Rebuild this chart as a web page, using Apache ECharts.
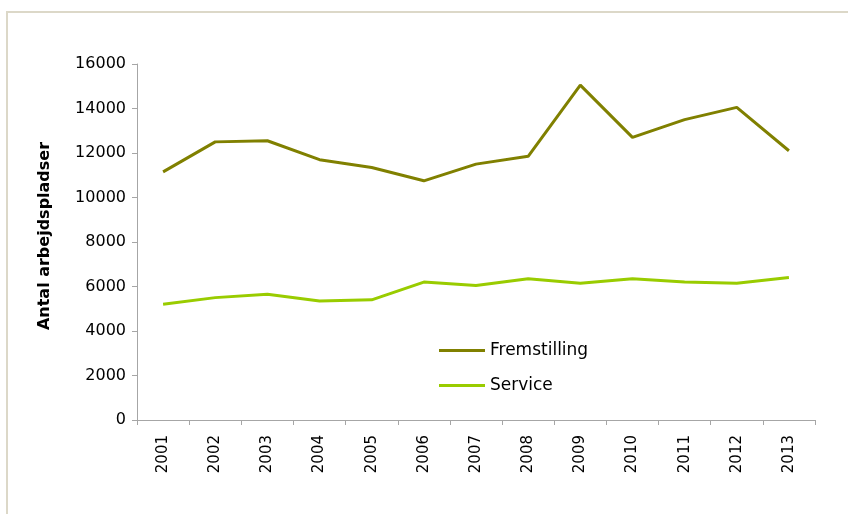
<!DOCTYPE html>
<html>
<head>
<meta charset="utf-8">
<script src="https://cdn.jsdelivr.net/npm/echarts@6/dist/echarts.min.js"></script>
<style>
html,body{margin:0;padding:0;background:#fff;}
#chart{width:848px;height:514px;}
</style>
</head>
<body>
<div id="chart"></div>
<script>
var years = ['2001','2002','2003','2004','2005','2006','2007','2008','2009','2010','2011','2012','2013'];
var fremstilling = [11150, 12500, 12550, 11700, 11350, 10750, 11500, 11850, 15050, 12700, 13500, 14050, 12100];
var service = [5200, 5500, 5650, 5350, 5400, 6200, 6050, 6350, 6150, 6350, 6200, 6150, 6400];
var yTicks = { min: 0, max: 16000, interval: 2000 };
var yTitle = 'Antal arbejdspladser';
var seriesNames = ['Fremstilling', 'Service'];

var chart = echarts.init(document.getElementById('chart'), null, {renderer: 'canvas'});
var axisColor = '#a6a6a6';
var tickFont = 'DejaVu Sans';
chart.setOption({
  animation: false,
  backgroundColor: '#ffffff',
  graphic: [
    {type: 'line', shape: {x1: 6, y1: 12, x2: 848, y2: 12}, style: {stroke: '#dcd8c8', lineWidth: 2}, silent: true},
    {type: 'line', shape: {x1: 7, y1: 11, x2: 7, y2: 514}, style: {stroke: '#dcd8c8', lineWidth: 2}, silent: true}
  ],
  grid: {left: 137, right: 33, top: 64, bottom: 94, containLabel: false},
  legend: {
    orient: 'vertical',
    left: 434,
    top: 337,
    itemWidth: 46,
    itemHeight: 3,
    itemGap: 18,
    itemTextGap: 3,
    icon: 'rect',
    data: seriesNames,
    textStyle: {fontFamily: tickFont, fontSize: 17, color: '#000'}
  },
  xAxis: {
    type: 'category',
    data: years,
    boundaryGap: true,
    axisLine: {lineStyle: {color: axisColor, width: 1}},
    axisTick: {show: true, length: 5, lineStyle: {color: axisColor}},
    axisLabel: {rotate: 90, margin: 15, fontFamily: tickFont, fontSize: 15, color: '#000'},
    splitLine: {show: false}
  },
  yAxis: {
    type: 'value',
    min: yTicks.min,
    max: yTicks.max,
    interval: yTicks.interval,
    name: yTitle,
    nameLocation: 'middle',
    nameGap: 84,
    nameTextStyle: {fontFamily: tickFont, fontWeight: 'bold', fontSize: 16, color: '#000', padding: [0, 0, 0, 12]},
    axisLine: {show: true, lineStyle: {color: axisColor, width: 1}},
    axisTick: {show: true, length: 5, lineStyle: {color: axisColor}},
    axisLabel: {margin: 11, fontFamily: tickFont, fontSize: 16, color: '#000', formatter: function (v) { return String(v); }},
    splitLine: {show: false}
  },
  series: [
    {
      name: seriesNames[0], type: 'line', data: fremstilling, symbol: 'none',
      lineStyle: {color: '#808000', width: 3}, itemStyle: {color: '#808000'}
    },
    {
      name: seriesNames[1], type: 'line', data: service, symbol: 'none',
      lineStyle: {color: '#99cc00', width: 3}, itemStyle: {color: '#99cc00'}
    }
  ]
});
</script>
</body>
</html>
